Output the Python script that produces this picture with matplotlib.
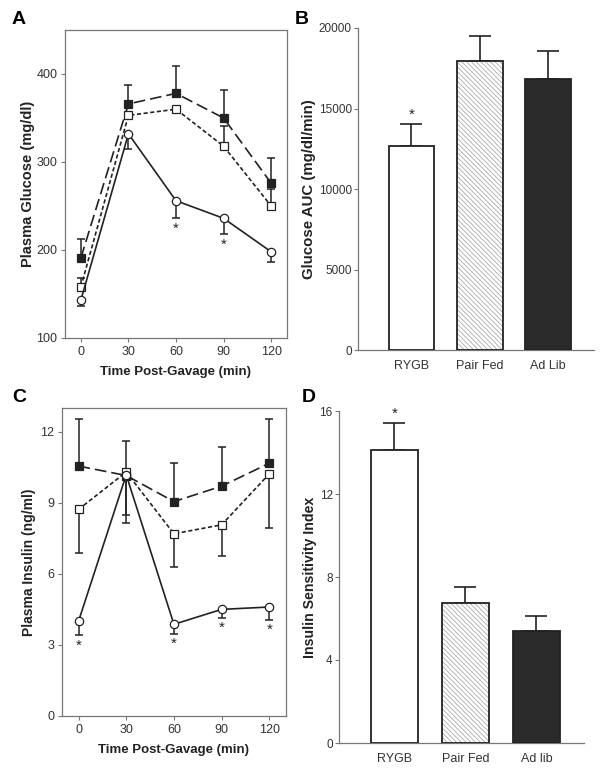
import numpy as np
import matplotlib
matplotlib.use("Agg")
import matplotlib.pyplot as plt

plt.rcParams['font.family'] = ['Liberation Sans', 'DejaVu Sans']
plt.rcParams['hatch.linewidth'] = 0.6

# time points (min)
time = [0, 30, 60, 90, 120]

# Panel A - plasma glucose (mg/dl)
glu_adlib = [191, 366, 378, 350, 276]
glu_adlib_up = [21, 21, 31, 32, 29]
glu_pair = [158, 353, 360, 318, 250]
glu_pair_up = [10, 0, 0, 23, 19]
glu_rygb = [143, 332, 256, 236, 198]
glu_rygb_dn = [7, 17, 20, 18, 12]

# Panel B - glucose AUC
groups_b = ["RYGB", "Pair Fed", "Ad Lib"]
auc = [12700, 17970, 16830]
auc_err = [1320, 1510, 1740]

# Panel C - plasma insulin (ng/ml)
ins_adlib = [10.55, 10.15, 9.05, 9.7, 10.67]
ins_adlib_up = [2.0, 1.45, 1.63, 1.67, 1.85]
ins_pair = [8.72, 10.3, 7.69, 8.07, 10.22]
ins_pair_dn = [1.84, 2.14, 1.4, 1.33, 2.28]
ins_rygb = [4.0, 10.18, 3.87, 4.5, 4.6]
ins_rygb_dn = [0.59, 1.68, 0.39, 0.35, 0.53]

# Panel D - insulin sensitivity index
groups_d = ["RYGB", "Pair Fed", "Ad lib"]
isi = [14.1, 6.73, 5.38]
isi_err = [1.32, 0.77, 0.76]

dark = '#222222'
frame = '#777777'
W, H = 602, 770

fig = plt.figure(figsize=(W / 100, H / 100), dpi=100)


def px_axes(x0, y0, x1, y1):
    return fig.add_axes([x0 / W, 1 - y1 / H, (x1 - x0) / W, (y1 - y0) / H])


def line_panel(ax, series, ylim, yticks, xlim, ylabel, ylabel_size, ylabel_pad):
    for y, up, dn, marker, face, dash in series:
        y = np.array(y, dtype=float)
        up = np.array(up, dtype=float)
        dn = np.array(dn, dtype=float)
        ax.errorbar(time, y, yerr=[dn, up], fmt='none', ecolor=dark, elinewidth=1.1,
                    capsize=3.2, capthick=1.1, zorder=2)
        ln, = ax.plot(time, y, color=dark, lw=1.2, marker=marker, markersize=6,
                      markerfacecolor=face, markeredgecolor=dark, markeredgewidth=0.9, zorder=3)
        if dash is not None:
            ln.set_dashes(dash)
    ax.set_xlim(*xlim)
    ax.set_ylim(*ylim)
    ax.set_xticks(time)
    ax.set_yticks(yticks)
    for s in ax.spines.values():
        s.set_color(frame)
        s.set_linewidth(0.9)
    ax.tick_params(labelcolor='#333333', color=frame, labelsize=9, length=3, width=0.8,
                   direction='out', top=False, right=False, pad=2.5)
    ax.set_xlabel("Time Post-Gavage (min)", fontsize=9.5, fontweight='bold', color=dark, labelpad=6)
    ax.set_ylabel(ylabel, fontsize=ylabel_size, fontweight='bold', color=dark, labelpad=ylabel_pad)


def bar_panel(ax, groups, vals, errs, ylim, yticks, ylabel, ylabel_size):
    x = np.arange(len(groups))
    colors = ['white', 'white', '#2a2a2a']
    for i in range(len(groups)):
        if i == 1:
            ax.bar(x[i], vals[i], width=0.665, color='white', edgecolor='#aaaaaa',
                   hatch='\\' * 7, linewidth=0, zorder=2)
            ax.bar(x[i], vals[i], width=0.665, color='none', edgecolor=dark, linewidth=1.3, zorder=3)
        else:
            ax.bar(x[i], vals[i], width=0.665, color=colors[i], edgecolor=dark, linewidth=1.3, zorder=3)
    ax.errorbar(x, vals, yerr=[np.zeros(len(vals)), errs], fmt='none', ecolor=dark,
                elinewidth=1.2, capsize=8, capthick=1.2, zorder=1)
    ax.set_xticks(x)
    ax.set_xticklabels(groups)
    ax.set_xlim(-0.78, 2.67)
    ax.set_ylim(*ylim)
    ax.set_yticks(yticks)
    ax.spines['top'].set_visible(False)
    ax.spines['right'].set_visible(False)
    for s in ['left', 'bottom']:
        ax.spines[s].set_color(frame)
        ax.spines[s].set_linewidth(0.9)
    ax.tick_params(labelcolor='#333333', labelsize=8.5, width=0.8, direction='out')
    ax.tick_params(axis='x', length=0, pad=7, labelsize=9)
    ax.tick_params(axis='y', length=3, color=frame, pad=1.5)
    ax.set_ylabel(ylabel, fontsize=ylabel_size, fontweight='bold', color=dark, labelpad=2)


# A
axA = px_axes(65, 30, 287, 338)
line_panel(axA,
           [(glu_adlib, glu_adlib_up, [0] * 5, 's', dark, (7, 3)),
            (glu_pair, glu_pair_up, [0] * 5, 's', 'white', (2.5, 1.5)),
            (glu_rygb, [0] * 5, glu_rygb_dn, 'o', 'white', None)],
           (100, 450), [100, 200, 300, 400], (-10, 130), "Plasma Glucose (mg/dl)", 10.5, 1)
for t in [60, 90]:
    i = time.index(t)
    axA.text(t, glu_rygb[i] - glu_rygb_dn[i] - 4, '*', ha='center', va='top', fontsize=11, color=dark)

# B
axB = px_axes(358, 28, 594, 350)
bar_panel(axB, groups_b, auc, auc_err, (0, 20000), [0, 5000, 10000, 15000, 20000],
          "Glucose AUC (mg/dl/min)", 10.8)
axB.text(0, auc[0] + auc_err[0] + 150, '*', ha='center', va='bottom', fontsize=11, color=dark)

# C
axC = px_axes(62, 408, 286, 716)
line_panel(axC,
           [(ins_adlib, ins_adlib_up, [0] * 5, 's', dark, (7, 3)),
            (ins_pair, [0] * 5, ins_pair_dn, 's', 'white', (2.5, 1.5)),
            (ins_rygb, [0] * 5, ins_rygb_dn, 'o', 'white', None)],
           (0, 13), [0, 3, 6, 9, 12], (-10.4, 130.5), "Plasma Insulin (ng/ml)", 10, 3)
for t in [0, 60, 90, 120]:
    i = time.index(t)
    axC.text(t, ins_rygb[i] - ins_rygb_dn[i] - 0.15, '*', ha='center', va='top', fontsize=11, color=dark)

# D
axD = px_axes(339, 411, 584, 743)
bar_panel(axD, groups_d, isi, isi_err, (0, 16), [0, 4, 8, 12, 16], "Insulin Sensitivity Index", 10.2)
axD.text(0, isi[0] + isi_err[0] + 0.1, '*', ha='center', va='bottom', fontsize=11, color=dark)

for lab, x, y in [("A", 12, 11), ("B", 295, 11), ("C", 12, 389), ("D", 302, 389)]:
    fig.text(x / W, 1 - y / H, lab, fontsize=14, fontweight='bold', va='top', ha='left')

fig.savefig("out.png", dpi=100)
